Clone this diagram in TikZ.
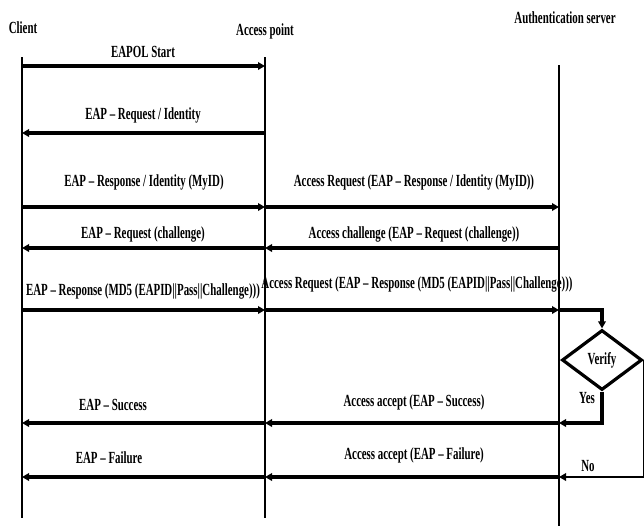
\documentclass[tikz,border=0pt]{standalone}
\usepackage{fontspec}
\setmainfont{Liberation Serif}[FakeStretch=0.64]
\usetikzlibrary{arrows.meta,shapes.geometric}
\begin{document}
\begin{tikzpicture}[x=1pt,y=-1pt,
  lbl/.style={font=\bfseries\fontsize{17}{19}\selectfont,inner sep=1pt},
  life/.style={line width=1.8pt},
  msg/.style={line width=3.2pt,-{Triangle[length=7pt,width=7.5pt]}},
  thinmsg/.style={line width=1.8pt,-{Triangle[length=7pt,width=7.5pt]}}]
\useasboundingbox (0,0) rectangle (644,528);
% lifelines
\coordinate (ct) at (22,57);   \coordinate (cb) at (22,518);
\coordinate (at) at (265,57);  \coordinate (ab) at (265,518);
\coordinate (st) at (559,65);  \coordinate (sb) at (559,526);
\draw[life] (ct) -- (cb);
\draw[life] (at) -- (ab);
\draw[life] (st) -- (sb);
\node[lbl] (client) at (23,28) {Client};
\node[lbl] (ap) at (265,31) {Access point};
\node[lbl] (as) at (565,18) {Authentication server};
% message endpoints
\foreach \n/\y in {1/66,2/133,3/207,4/248,5/310,6/423,7/477}{
  \coordinate (c\n) at (22,\y);
  \coordinate (a\n) at (265,\y);
  \coordinate (s\n) at (559,\y);
}
\draw[msg] (c1) -- (a1);
\node[lbl] (m1) at (143,52) {EAPOL Start};
\draw[msg] (a2) -- (c2);
\node[lbl] (m2) at (143,115) {EAP -- Request / Identity};
\draw[msg] (c3) -- (a3);
\node[lbl] (m3) at (144,182) {EAP -- Response / Identity (MyID)};
\draw[msg] (a3) -- (s3);
\node[lbl] (n3) at (414,182) {Access Request (EAP -- Response / Identity (MyID))};
\draw[msg] (a4) -- (c4);
\node[lbl] (m4) at (143,234) {EAP -- Request (challenge)};
\draw[msg] (s4) -- (a4);
\node[lbl] (n4) at (414,234) {Access challenge (EAP -- Request (challenge))};
\draw[msg] (c5) -- (a5);
\node[lbl] (m5) at (143,291) {EAP -- Response (MD5 (EAPID||Pass||Challenge)))};
\draw[msg] (a5) -- (s5);
\node[lbl] (n5) at (417,284) {Access Request (EAP -- Response (MD5 (EAPID||Pass||Challenge)))};
% verify
\node[draw,diamond,line width=3.2pt,minimum width=80pt,minimum height=60pt,inner sep=0pt,lbl] (v) at (602,360) {Verify};
\draw[line width=3.2pt,-{Triangle[length=7pt,width=7.5pt]}] (s5) -| (v.north);
\draw[msg] (v.south) |- (s6);
\node[lbl] (yes) at (587,398) {Yes};
\draw[thinmsg] (v.east) |- (s7);
\node[lbl] (no) at (588,466) {No};
\draw[msg] (s6) -- (a6);
\node[lbl] (n6) at (414,402) {Access accept (EAP -- Success)};
\draw[msg] (a6) -- (c6);
\node[lbl] (m6) at (113,405) {EAP -- Success};
\draw[msg] (s7) -- (a7);
\node[lbl] (n7) at (414,455) {Access accept (EAP -- Failure)};
\draw[msg] (a7) -- (c7);
\node[lbl] (m7) at (109,458) {EAP -- Failure};
\end{tikzpicture}
\end{document}
